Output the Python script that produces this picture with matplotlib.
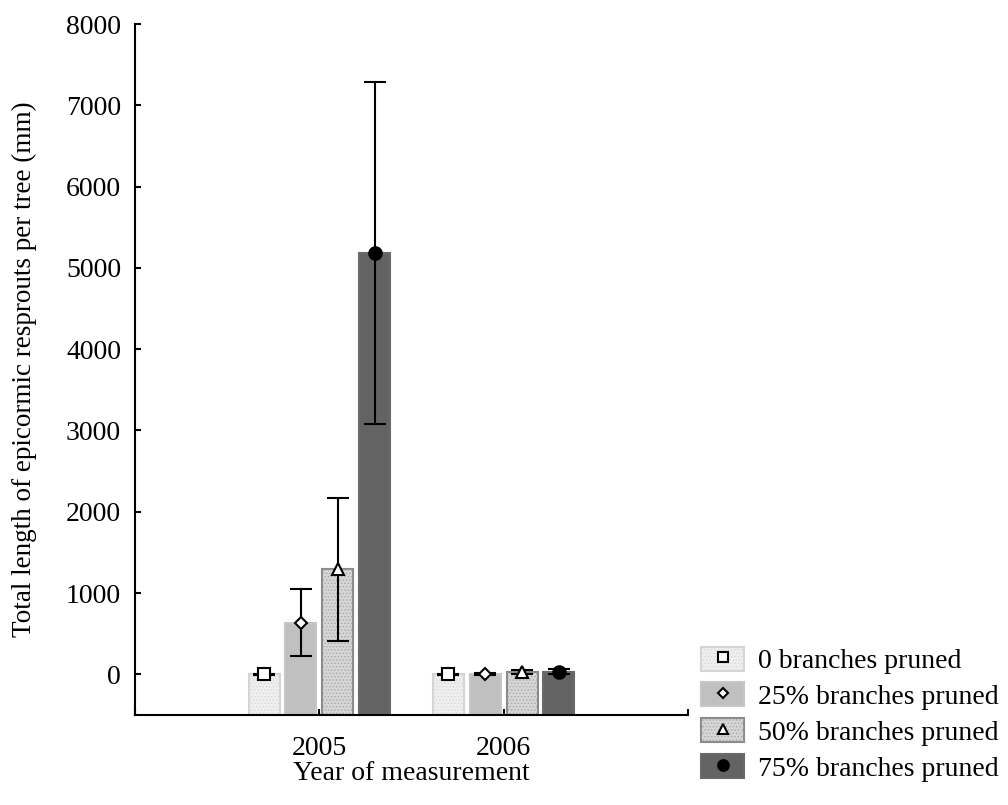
import numpy as np
import matplotlib
matplotlib.use('Agg')
import matplotlib.pyplot as plt
from matplotlib.patches import Patch
from matplotlib.lines import Line2D
from matplotlib.legend_handler import HandlerTuple

plt.rcParams['font.family'] = ['Liberation Serif', 'DejaVu Serif']
plt.rcParams['hatch.linewidth'] = 0.6

# data (mm)
years = ['2005', '2006']
treatments = ['0 branches pruned', '25% branches pruned',
              '50% branches pruned', '75% branches pruned']
means_2005 = [0, 635, 1290, 5185]
errs_2005 = [8, 410, 875, 2100]
means_2006 = [3, 3, 30, 35]
errs_2006 = [5, 12, 25, 25]

means = np.array([means_2005, means_2006])
errs = np.array([errs_2005, errs_2006])

# styles per treatment
face = ['#efefef', '#c0c0c0', '#d6d6d6', '#636363']
edge = ['#d4d4d4', '#c6c6c6', '#8a8a8a', '#6a6a6a']
hatch = ['.....', None, '.....', None]
hatch_col = ['#d8d8d8', None, '#a8a8a8', None]
markers = ['s', 'D', '^', 'o']
mfc = ['white', 'white', 'white', 'black']
msize = [9, 6.5, 8.5, 9]

fs = 20
ymin = -500
fig = plt.figure(figsize=(10.08, 8.05), dpi=100)
ax = fig.add_axes([135 / 1008, 1 - 715 / 805, 553 / 1008, 691 / 805])

x = np.arange(len(years))
width = 0.168
offsets = [-0.3, -0.1, 0.1, 0.3]

for i in range(len(treatments)):
    xs = x + offsets[i]
    vals = means[:, i]
    ax.bar(xs, vals - ymin, bottom=ymin, width=width, color=face[i],
           edgecolor=edge[i], linewidth=1.5, zorder=2)
    if hatch[i]:
        ax.bar(xs, vals - ymin, bottom=ymin, width=width, color='none',
               edgecolor=hatch_col[i], linewidth=0, hatch=hatch[i], zorder=2.5)
    ax.errorbar(xs, vals, yerr=errs[:, i], fmt='none', ecolor='black',
                elinewidth=1.5, capsize=8, capthick=1.5, zorder=3)
    ax.plot(xs, vals, ls='none', marker=markers[i], ms=msize[i], mfc=mfc[i],
            mec='black', mew=1.5, zorder=4)

ax.set_xlim(-1, 2)
ax.set_ylim(ymin, 8000)
ax.set_xticks([-1, 0, 1, 2])
ax.set_xticklabels(['', years[0], years[1], ''])
ax.set_yticks(np.arange(0, 8001, 1000))

for s in ['top', 'right']:
    ax.spines[s].set_visible(False)
for s in ['left', 'bottom']:
    ax.spines[s].set_linewidth(1.5)
ax.tick_params(direction='in', length=4, width=1.5, labelsize=fs, pad=10)
ax.tick_params(axis='x', pad=15)

ax.set_ylabel('Total length of epicormic resprouts per tree (mm)', fontsize=19.5, labelpad=21)
ax.set_xlabel('Year of measurement', fontsize=fs, labelpad=0)

handles = []
for i in range(len(treatments)):
    parts = [Patch(facecolor=face[i], edgecolor=edge[i], linewidth=1.5)]
    if hatch[i]:
        parts.append(Patch(facecolor='none', edgecolor=hatch_col[i], linewidth=0,
                           hatch=hatch[i]))
    parts.append(Line2D([], [], ls='none', marker=markers[i], ms=msize[i] * 0.85,
                        mfc=mfc[i], mec='black', mew=1.5))
    handles.append(tuple(parts))

fig.legend(handles, treatments, loc='upper left', bbox_to_anchor=(0.682, 0.214),
           frameon=False, fontsize=20, borderpad=0, labelspacing=0.3,
           handlelength=1.55, handleheight=0.95, handletextpad=0.5,
           handler_map={tuple: HandlerTuple(ndivide=1)})

fig.savefig('out.png', dpi=100)
